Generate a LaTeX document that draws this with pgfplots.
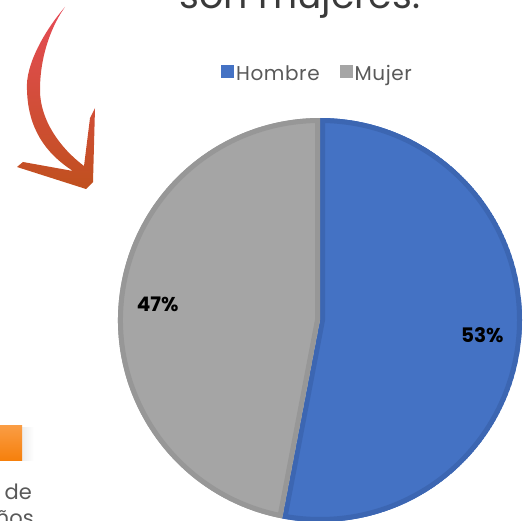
\documentclass[border=0pt]{standalone}
\usepackage{pgfplots}
\pgfplotsset{compat=1.18}
\usepackage{pgfplotstable}
\usepackage{fontspec}
\setmainfont{Poppins}

\definecolor{hblue}{HTML}{4472C4}
\definecolor{hblueedge}{HTML}{3C66B2}
\definecolor{mgray}{HTML}{A5A5A5}
\definecolor{mgrayedge}{HTML}{979797}
\definecolor{txtgray}{HTML}{595959}
\definecolor{titlegray}{HTML}{3A3A3A}
\definecolor{arrowtop}{HTML}{E64B57}
\definecolor{arrowbot}{HTML}{C0501E}
\definecolor{boxtop}{HTML}{FA9D45}
\definecolor{boxbot}{HTML}{F6800C}

% share of each group, in percent
\pgfplotstableread{
label  value
Hombre 53
Mujer  47
}\piedata

\begin{document}
\begin{tikzpicture}[x=1pt,y=1pt]
\pgfplotstablegetelem{0}{value}\of\piedata \let\vH\pgfplotsretval
\pgfplotstablegetelem{1}{value}\of\piedata \let\vM\pgfplotsretval
\pgfmathsetmacro\aH{90-3.6*\vH}   % Hombre: 90 -> \aH (clockwise)
\pgfmathsetmacro\aM{\aH-3.6*\vM}  % Mujer: \aH -> \aM
\pgfmathsetmacro\mH{90-1.8*\vH}
\pgfmathsetmacro\mM{\aH-1.8*\vM}
\pgfmathtruncatemacro\pH{\vH}
\pgfmathtruncatemacro\pM{\vM}

\useasboundingbox (0,0) rectangle (532,520);
\clip (0,0) rectangle (532,520);

% cut-off title of the surrounding page
\node[anchor=base, inner sep=0pt, text=titlegray,
      font=\fontsize{38}{38}\selectfont] at (300,511) {son mujeres.};

% brush arrow
\shade[top color=arrowtop, bottom color=arrowbot]
  (65,513) .. controls (45,490) and (25,455) .. (27,430)
  .. controls (28,392) and (45,367) .. (73,349)
  -- (23,358) -- (17,353) -- (86,331) -- (93,338) -- (95,412) -- (90,402)
  -- (84,354) .. controls (60,372) and (40,400) .. (40,430)
  .. controls (40,465) and (52,495) .. (65,513) -- cycle;

% orange box and text fragments
\shade[left color=black!7, right color=white] (22,60) rectangle (34,93);
\shade[top color=boxtop, bottom color=boxbot] (0,60) rectangle (22,95);
\node[anchor=base east, inner sep=0pt, text=txtgray,
      font=\fontsize{21}{21}\selectfont] at (32,21) {de};
\node[anchor=base east, inner sep=0pt, text=txtgray,
      font=\fontsize{21}{21}\selectfont] at (34,-5) {años};

\begin{axis}[
    at={(0,0)}, anchor=south west,
    scale only axis, width=532pt, height=520pt,
    xmin=0, xmax=532, ymin=0, ymax=520,
    hide axis, clip=false,
    legend columns=2,
    legend image code/.code={\fill[#1] (0pt,-4pt) rectangle (13pt,9pt);},
    legend style={at={(0.5968,0.8577)}, anchor=center,
        draw=none, fill=none, text=txtgray,
        font=\fontsize{20}{20}\selectfont\addfontfeatures{LetterSpace=3},
        /tikz/every even column/.append style={column sep=18pt}},
    legend cell align=left,
]
\addlegendimage{fill=hblue, draw=none}\addlegendentry{Hombre}
\addlegendimage{fill=mgray, draw=none}\addlegendentry{Mujer}

% Hombre slice
\begin{scope}
  \clip (axis cs:320,200) -- ++(90:202pt)
    arc[start angle=90, end angle=\aH, radius=202pt] -- cycle;
  \fill[hblue] (axis cs:320,200) -- ++(90:202pt)
    arc[start angle=90, end angle=\aH, radius=202pt] -- cycle;
  \draw[hblueedge, line width=10pt] (axis cs:320,200) -- ++(90:202pt)
    arc[start angle=90, end angle=\aH, radius=202pt] -- cycle;
\end{scope}
% Mujer slice
\begin{scope}
  \clip (axis cs:320,200) -- ++(\aH:202pt)
    arc[start angle=\aH, end angle=\aM, radius=202pt] -- cycle;
  \fill[mgray] (axis cs:320,200) -- ++(\aH:202pt)
    arc[start angle=\aH, end angle=\aM, radius=202pt] -- cycle;
  \draw[mgrayedge, line width=10pt] (axis cs:320,200) -- ++(\aH:202pt)
    arc[start angle=\aH, end angle=\aM, radius=202pt] -- cycle;
\end{scope}

\node[font=\bfseries\fontsize{20}{20}\selectfont]
  at (axis cs:{320+163*cos(\mH)},{200+163*sin(\mH)}) {\pH\%};
\node[font=\bfseries\fontsize{20}{20}\selectfont]
  at (axis cs:{320+163*cos(\mM)},{200+163*sin(\mM)}) {\pM\%};
\end{axis}
\end{tikzpicture}
\end{document}
